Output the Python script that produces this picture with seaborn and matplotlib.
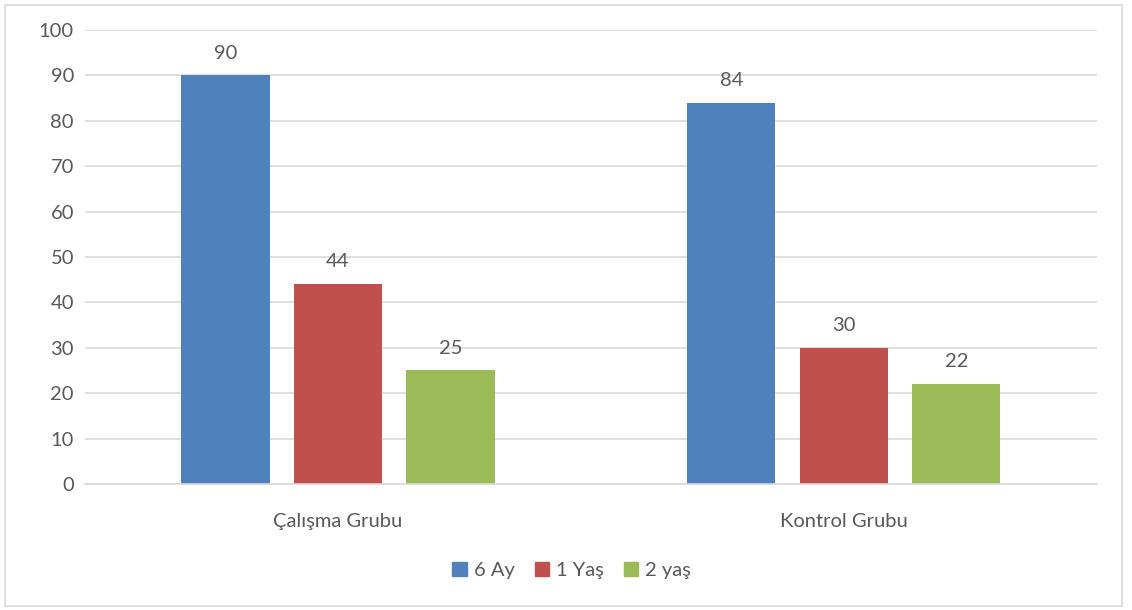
import matplotlib
matplotlib.use("Agg")
import matplotlib.pyplot as plt
import pandas as pd
import seaborn as sns
from matplotlib.patches import Rectangle

groups = ["Çalışma Grubu", "Kontrol Grubu"]
series = ["6 Ay", "1 Yaş", "2 yaş"]
values_6ay = [90, 84]
values_1yas = [44, 30]
values_2yas = [25, 22]
colors = ["#4F81BD", "#C0504D", "#9BBB59"]

df = pd.DataFrame({
    "grup": groups * 3,
    "seri": [s for s in series for _ in groups],
    "deger": values_6ay + values_1yas + values_2yas,
})

sns.set_style("white")
plt.rcParams["font.family"] = ["Lato", "DejaVu Sans"]
text_col = "#595959"
fs = 14.5

fig = plt.figure(figsize=(11.32, 6.10), dpi=100)
ax = fig.add_axes([0.0751, 0.2066, 0.8939, 0.7442])

sns.barplot(data=df, x="grup", y="deger", hue="seri", order=groups,
            hue_order=series, palette=colors, width=0.667, gap=0.217,
            saturation=1, linewidth=0, ax=ax, legend=False)

ax.set_xlim(-0.5, 1.5)
ax.set_ylim(0, 100)
ax.set_yticks(range(0, 101, 10))
ax.yaxis.grid(True, color="#D9D9D9", linewidth=1.2)
ax.set_axisbelow(True)
for s in ["top", "right", "left"]:
    ax.spines[s].set_visible(False)
ax.spines["bottom"].set_color("#D9D9D9")
ax.spines["bottom"].set_linewidth(1.2)
ax.tick_params(axis="both", length=0, labelsize=fs, colors=text_col, pad=8)
ax.tick_params(axis="x", pad=21)
ax.set_xlabel("")
ax.set_ylabel("")

for cont in ax.containers:
    ax.bar_label(cont, fmt="%d", padding=10, fontsize=fs, color=text_col)

handles = [Rectangle((0, 0), 1, 1, color=c) for c in colors]
fig.legend(handles, series, loc="center", bbox_to_anchor=(0.505, 0.065),
           ncol=3, frameon=False, fontsize=fs, handlelength=0.7,
           handleheight=0.7, handletextpad=0.35, columnspacing=1.0,
           labelcolor=text_col)

fig.patches.append(Rectangle((0.004, 0.007), 0.987, 0.985, transform=fig.transFigure,
                             fill=False, edgecolor="#D9D9D9", linewidth=1.2))

fig.savefig("out.png", dpi=100, facecolor="white")
